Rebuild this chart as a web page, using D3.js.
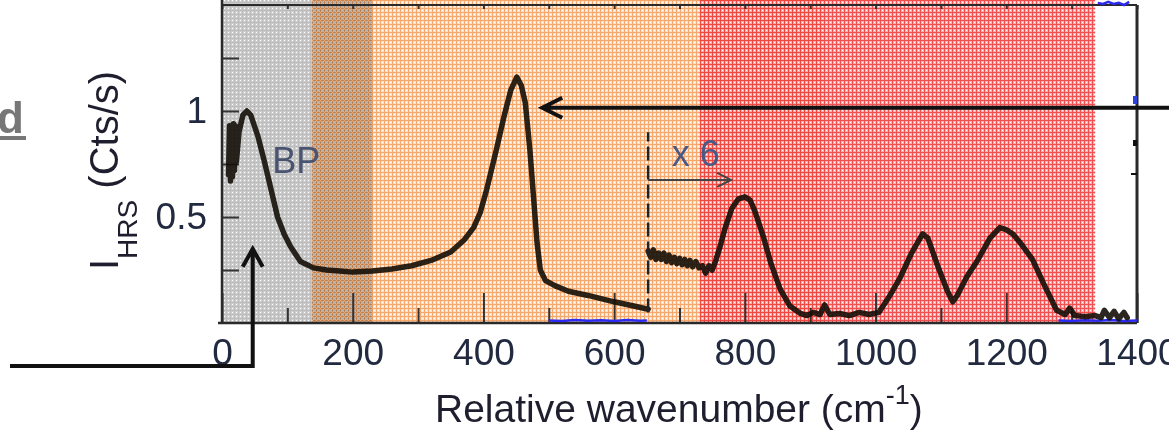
<!DOCTYPE html>
<html>
<head>
<meta charset="utf-8">
<script src="https://cdn.jsdelivr.net/npm/d3@7"></script>
<style>
  html, body { margin: 0; padding: 0; background: #fff; }
  svg { display: block; font-family: "Liberation Sans", Arial, sans-serif; }
</style>
</head>
<body>
<svg id="chart" width="1169" height="433"></svg>
<script>
// shaded spectral regions (wavenumber, cm-1), in drawing order
const bandNames = ["orange", "gray", "red"];
const bandFrom = [138, 0, 731];
const bandTo = [922, 230, 1336];

// measured spectrum, 0-652 cm-1 (raw)
const wnLow = [10, 11.5, 13, 14.5, 16, 17.5, 19, 20.5, 22, 26, 32, 38, 44, 55, 65, 75, 85, 95, 105, 120, 140, 160, 180, 200, 230, 260, 290, 320, 350, 370, 385, 395, 405, 420, 432, 442, 451, 458, 464, 471, 477, 482, 487, 495, 510, 530, 560, 600, 630, 652];
const intLow = [0.70, 0.93, 0.67, 0.92, 0.69, 0.94, 0.72, 0.93, 0.76, 0.90, 0.98, 1.0, 0.98, 0.88, 0.76, 0.63, 0.50, 0.42, 0.36, 0.29, 0.26, 0.25, 0.245, 0.24, 0.245, 0.255, 0.27, 0.295, 0.335, 0.39, 0.45, 0.52, 0.63, 0.82, 0.98, 1.10, 1.16, 1.12, 1.04, 0.82, 0.58, 0.38, 0.25, 0.20, 0.175, 0.15, 0.13, 0.10, 0.08, 0.065];

// measured spectrum, 652-1385 cm-1 (multiplied by 6)
const wnHigh = [652, 656, 660, 664, 668, 672, 676, 680, 684, 688, 692, 696, 700, 704, 708, 712, 716, 720, 725, 730, 735, 740, 745, 750, 755, 762, 770, 780, 790, 800, 808, 815, 828, 840, 854, 869, 885, 895, 905, 915, 922, 930, 945, 960, 975, 990, 1005, 1020, 1037, 1055, 1072, 1080, 1095, 1110, 1118, 1125, 1140, 1155, 1175, 1190, 1200, 1210, 1221, 1240, 1258, 1277, 1290, 1297, 1305, 1320, 1336, 1345, 1350, 1358, 1365, 1372, 1380, 1385];
const intHigh = [0.34, 0.31, 0.345, 0.30, 0.33, 0.30, 0.33, 0.29, 0.32, 0.285, 0.31, 0.28, 0.305, 0.275, 0.30, 0.27, 0.295, 0.265, 0.29, 0.26, 0.27, 0.235, 0.27, 0.25, 0.29, 0.36, 0.45, 0.54, 0.585, 0.595, 0.58, 0.53, 0.41, 0.28, 0.16, 0.08, 0.045, 0.035, 0.05, 0.04, 0.085, 0.04, 0.045, 0.035, 0.05, 0.04, 0.05, 0.12, 0.21, 0.33, 0.42, 0.40, 0.27, 0.15, 0.10, 0.13, 0.22, 0.29, 0.40, 0.45, 0.44, 0.42, 0.38, 0.30, 0.18, 0.06, 0.04, 0.07, 0.035, 0.03, 0.035, 0.025, 0.06, 0.025, 0.055, 0.02, 0.05, 0.025];

// faint blue trace near the baseline (and its clipped top part)
const wnBlue = [500, 520, 540, 560, 580, 600, 620, 640, 650];
const intBlue = [0.012, 0.01, 0.014, 0.011, 0.013, 0.01, 0.014, 0.011, 0.012];
const wnBlue2 = [1280, 1300, 1320, 1340, 1360, 1380, 1400];
const intBlue2 = [0.012, 0.01, 0.013, 0.011, 0.014, 0.01, 0.012];
const wnBlue3 = [1340, 1348, 1356, 1364, 1372, 1380, 1388];
const intBlue3 = [1.51, 1.505, 1.515, 1.505, 1.51, 1.50, 1.515];

const xTicksMajor = [0, 200, 400, 600, 800, 1000, 1200, 1400];
const xTicksMinor = [100, 300, 500, 700, 900, 1100, 1300];
const xTicksTop = d3.range(0, 1401, 100);
const yTicks = [0.25, 0.5, 0.75, 1, 1.25];
const yTickLabels = { 0.5: "0.5", 1: "1" };

const svg = d3.select("#chart");
const x = d3.scaleLinear().domain([0, 1400]).range([222, 1137]);
const y = d3.scaleLinear().domain([0, 1.5]).range([323, 5]);

const bandStyle = {
  orange: { bg: "#fde3cc", line: "#f6a86c", opacity: 1, blend: "normal", shift: 0 },
  gray:   { bg: "#c6c6c6", line: "#b0b0b0", opacity: 0.85, blend: "multiply", shift: 2 },
  red:    { bg: "#f8aaaa", line: "#f03c3c", opacity: 0.9, blend: "normal", shift: 0 }
};

// grid-like texture for each band
const defs = svg.append("defs");
bandNames.forEach(name => {
  const s = bandStyle[name].shift;
  const p = defs.append("pattern")
    .attr("id", "pat-" + name)
    .attr("width", 4).attr("height", 4)
    .attr("x", s).attr("y", s)
    .attr("patternUnits", "userSpaceOnUse");
  p.append("rect").attr("width", 4).attr("height", 4).attr("fill", bandStyle[name].bg);
  p.append("rect").attr("width", 4).attr("height", 1).attr("fill", bandStyle[name].line);
  p.append("rect").attr("width", 1).attr("height", 4).attr("fill", bandStyle[name].line);
  p.append("rect").attr("x", 2).attr("y", 2).attr("width", 1).attr("height", 1).attr("fill", "#fff");
});

svg.append("g").selectAll("rect")
  .data(bandNames)
  .join("rect")
  .attr("x", (d, i) => x(bandFrom[i]))
  .attr("width", (d, i) => x(bandTo[i]) - x(bandFrom[i]))
  .attr("y", 0)
  .attr("height", y(0))
  .attr("fill", d => "url(#pat-" + d + ")")
  .attr("opacity", d => bandStyle[d].opacity)
  .style("mix-blend-mode", d => bandStyle[d].blend);

// axes
const tickColor = "#333";
const labelColor = "#222a40";

const gBottom = svg.append("g").attr("transform", `translate(0,${y(0)})`);
gBottom.call(d3.axisBottom(x).tickValues(xTicksMajor).tickSize(-30).tickPadding(16).tickFormat(d3.format("d")));
gBottom.append("g").call(d3.axisBottom(x).tickValues(xTicksMinor).tickSize(-15).tickFormat(""));

const gLeft = svg.append("g").attr("transform", `translate(${x(0)},0)`);
gLeft.call(d3.axisLeft(y).tickValues(yTicks).tickSize(-17).tickPadding(15).tickFormat(d => yTickLabels[d] || ""));

const gTop = svg.append("g").attr("transform", `translate(0,${y(1.5)})`);
gTop.call(d3.axisTop(x).tickValues(xTicksTop).tickSize(-4).tickFormat(""));

svg.selectAll(".domain").remove();
svg.selectAll(".tick line").attr("stroke", tickColor).attr("stroke-width", 2);
svg.selectAll(".tick text").attr("font-size", 37).attr("fill", labelColor);

// frame
const frame = svg.append("g").attr("stroke", "#2a2a2a").attr("fill", "none");
frame.append("line").attr("x1", x(0)).attr("x2", x(0)).attr("y1", 0).attr("y2", y(0)).attr("stroke-width", 2.5);
frame.append("line").attr("x1", x(0) - 4).attr("x2", x(1400)).attr("y1", y(0)).attr("y2", y(0)).attr("stroke-width", 2.5);
frame.append("line").attr("x1", x(0)).attr("x2", x(1400)).attr("y1", y(1.5)).attr("y2", y(1.5)).attr("stroke-width", 2);
frame.append("line").attr("x1", x(1400)).attr("x2", x(1400)).attr("y1", y(1.5)).attr("y2", y(0)).attr("stroke-width", 3);

// blue traces
const line = d3.line().x(d => x(d[0])).y(d => y(d[1]));
[[wnBlue, intBlue], [wnBlue2, intBlue2], [wnBlue3, intBlue3]].forEach(([w, v]) => {
  svg.append("path")
    .datum(w.map((d, i) => [d, v[i]]))
    .attr("d", line)
    .attr("fill", "none")
    .attr("stroke", "#2a2af0")
    .attr("stroke-width", 2.5);
});

// spectrum
[[wnLow, intLow], [wnHigh, intHigh]].forEach(([w, v]) => {
  svg.append("path")
    .datum(w.map((d, i) => [d, v[i]]))
    .attr("d", line)
    .attr("fill", "none")
    .attr("stroke", "#140e08")
    .attr("stroke-width", 5.5)
    .attr("stroke-linejoin", "round")
    .attr("stroke-linecap", "round")
    .attr("opacity", 0.9);
});

// x6 marker: dashed split line and arrow
const splitWn = 652;
svg.append("line")
  .attr("x1", x(splitWn)).attr("x2", x(splitWn))
  .attr("y1", y(0.05)).attr("y2", y(0.9))
  .attr("stroke", "#222").attr("stroke-width", 2.5).attr("stroke-dasharray", "14,5");
const arrowY = y(0.675);
svg.append("path")
  .attr("d", `M${x(splitWn)},${arrowY}H${x(779)}M${x(779) - 14},${arrowY - 7}L${x(779)},${arrowY}L${x(779) - 14},${arrowY + 7}`)
  .attr("fill", "none").attr("stroke", "#444").attr("stroke-width", 2);
svg.append("text")
  .attr("x", x(688)).attr("y", y(0.74))
  .attr("font-size", 36).attr("fill", "#4b5a85")
  .text("x 6");

svg.append("text")
  .attr("x", x(77)).attr("y", y(0.706))
  .attr("font-size", 36).attr("fill", "#4a5470")
  .text("BP");

// annotation arrows
const tipA = [x(490), y(1.015)];
svg.append("path")
  .attr("d", `M1169,${tipA[1]}H${tipA[0]}M${tipA[0] + 20},${tipA[1] - 10}L${tipA[0]},${tipA[1]}L${tipA[0] + 20},${tipA[1] + 10}`)
  .attr("fill", "none").attr("stroke", "#111").attr("stroke-width", 4);

const tipB = [x(47), y(0.35)];
const cornerY = y(-0.203);
svg.append("path")
  .attr("d", `M10,${cornerY}H${tipB[0]}V${tipB[1]}M${tipB[0] - 10},${tipB[1] + 18}L${tipB[0]},${tipB[1]}L${tipB[0] + 10},${tipB[1] + 18}`)
  .attr("fill", "none").attr("stroke", "#111").attr("stroke-width", 4);

// axis titles
const yt = svg.append("text")
  .attr("transform", "translate(118,270) rotate(-90)")
  .attr("font-size", 40).attr("fill", "#1e1e2e");
yt.append("tspan").text("I");
yt.append("tspan").attr("font-size", 28).attr("dy", 19).text("HRS");
yt.append("tspan").attr("dy", -19).text(" (Cts/s)");

const xt = svg.append("text")
  .attr("x", 435).attr("y", 422)
  .attr("font-size", 39).attr("fill", "#1e1e2e");
xt.append("tspan").text("Relative wavenumber (cm");
xt.append("tspan").attr("font-size", 27).attr("dy", -18).text("-1");
xt.append("tspan").attr("dy", 18).text(")");

// panel letter
svg.append("text")
  .attr("x", 24).attr("y", 133)
  .attr("text-anchor", "end")
  .attr("font-size", 44).attr("font-weight", "bold").attr("fill", "#777")
  .text("d");
svg.append("rect").attr("x", 0).attr("y", 136).attr("width", 26).attr("height", 4).attr("fill", "#777");

// fragments of the neighbouring panel
svg.append("rect").attr("x", 1133).attr("y", 96).attr("width", 4).attr("height", 8).attr("fill", "#3040e0");
svg.append("rect").attr("x", 1133).attr("y", 140).attr("width", 4).attr("height", 6).attr("fill", "#111");
svg.append("rect").attr("x", 1131).attr("y", 173).attr("width", 6).attr("height", 2).attr("fill", "#111");
</script>
</body>
</html>
